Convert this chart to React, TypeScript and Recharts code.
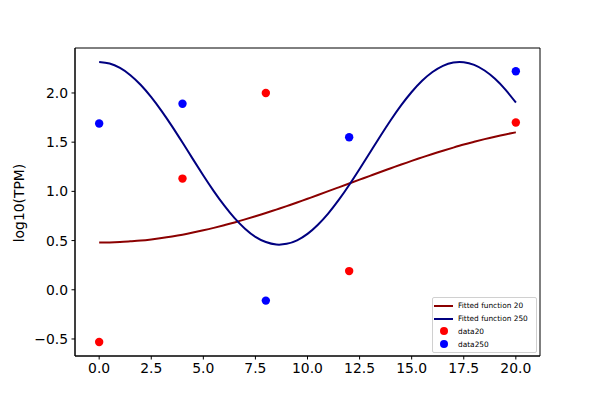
import React from 'react';
import {
  ComposedChart,
  Line,
  Scatter,
  XAxis,
  YAxis,
  Legend,
  ReferenceArea,
} from 'recharts';

// x positions of the sampled fitted curves
const fitX = [
  0, 0.5, 1, 1.5, 2, 2.5, 3, 3.5, 4, 4.5, 5, 5.5, 6, 6.5, 7, 7.5, 8, 8.5, 9, 9.5, 10,
  10.5, 11, 11.5, 12, 12.5, 13, 13.5, 14, 14.5, 15, 15.5, 16, 16.5, 17, 17.5, 18, 18.5,
  19, 19.5, 20,
];
const fit20Values = [
  0.48, 0.481, 0.485, 0.492, 0.5, 0.512, 0.526, 0.542, 0.56, 0.581, 0.604, 0.629,
  0.656, 0.684, 0.715, 0.747, 0.78, 0.815, 0.85, 0.887, 0.925, 0.963, 1.002, 1.041,
  1.08, 1.119, 1.158, 1.197, 1.235, 1.273, 1.31, 1.345, 1.38, 1.413, 1.445, 1.476,
  1.504, 1.531, 1.556, 1.579, 1.6,
];
const fit250Values = [
  2.315, 2.3, 2.254, 2.181, 2.081, 1.958, 1.816, 1.661, 1.496, 1.328, 1.162, 1.003,
  0.857, 0.728, 0.621, 0.538, 0.485, 0.46, 0.467, 0.503, 0.568, 0.661, 0.777, 0.913,
  1.065, 1.228, 1.395, 1.563, 1.725, 1.876, 2.01, 2.124, 2.213, 2.276, 2.31, 2.313,
  2.285, 2.228, 2.144, 2.034, 1.903,
];

// measured time points
const sampleX = [0, 4, 8, 12, 20];
const data20Values = [-0.53, 1.13, 2.0, 0.19, 1.7];
const data250Values = [1.69, 1.89, -0.11, 1.55, 2.22];

const xTicks = [0, 2.5, 5, 7.5, 10, 12.5, 15, 17.5, 20];
const yTicks = [-0.5, 0, 0.5, 1, 1.5, 2];
const xDomain: [number, number] = [-1.16, 21.16];
const yDomain: [number, number] = [-0.673, 2.457];

const fit20 = fitX.map((x, i) => ({ x, y: fit20Values[i] }));
const fit250 = fitX.map((x, i) => ({ x, y: fit250Values[i] }));
const data20 = sampleX.map((x, i) => ({ x, y: data20Values[i] }));
const data250 = sampleX.map((x, i) => ({ x, y: data250Values[i] }));

const FONT = '"DejaVu Sans", sans-serif';
const fmt = (v: number) => v.toFixed(1).replace('-', '\u2212');

const dot = (color: string) => (props: any) => (
  <circle cx={props.cx} cy={props.cy} r={4.2} fill={color} />
);

const legendItems = [
  { label: 'Fitted function 20', color: '#8b0000', kind: 'line' },
  { label: 'Fitted function 250', color: '#000080', kind: 'line' },
  { label: 'data20', color: '#ff0000', kind: 'dot' },
  { label: 'data250', color: '#0000ff', kind: 'dot' },
];

const LegendBox = () => (
  <div
    style={{
      width: 103,
      border: '1px solid #d0d0d0',
      borderRadius: 2,
      background: 'rgba(255,255,255,0.8)',
      padding: '1.5px 0',
      fontFamily: FONT,
      fontSize: 7.4,
      color: '#000',
      textAlign: 'left',
    }}
  >
    {legendItems.map((it) => (
      <div key={it.label} style={{ display: 'flex', alignItems: 'center', height: 12.8 }}>
        <svg width={24} height={12}>
          {it.kind === 'line' ? (
            <line x1={1} x2={20} y1={6} y2={6} stroke={it.color} strokeWidth={2} />
          ) : (
            <circle cx={11} cy={6} r={4} fill={it.color} />
          )}
        </svg>
        <span style={{ marginLeft: 1, whiteSpace: 'nowrap' }}>{it.label}</span>
      </div>
    ))}
  </div>
);

const tickStyle = { fill: '#000', fontSize: 13.9, fontFamily: FONT };

export default function App() {
  return (
    <div style={{ position: 'absolute', left: 0, top: 0, background: '#fff' }}>
      <ComposedChart
        width={600}
        height={400}
        margin={{ top: 48, right: 60, bottom: 14, left: 25 }}
      >
        <XAxis
          type="number"
          dataKey="x"
          domain={xDomain}
          ticks={xTicks}
          tickFormatter={fmt}
          allowDataOverflow
          height={30}
          tick={tickStyle}
          tickSize={3.5}
          tickMargin={3.5}
          axisLine={{ stroke: '#000', strokeWidth: 1 }}
          tickLine={{ stroke: '#000' }}
        />
        <YAxis
          type="number"
          dataKey="y"
          domain={yDomain}
          ticks={yTicks}
          tickFormatter={fmt}
          allowDataOverflow
          width={50}
          tick={tickStyle}
          tickSize={3.5}
          tickMargin={3.5}
          axisLine={{ stroke: '#000', strokeWidth: 1 }}
          tickLine={{ stroke: '#000' }}
          label={{
            content: () => (
              <text
                x={18.5}
                y={203}
                transform="rotate(-90 18.5 203)"
                textAnchor="middle"
                dominantBaseline="central"
                fontSize={13.9}
                fontFamily={FONT}
                fill="#000"
              >
                log10(TPM)
              </text>
            ),
          }}
        />
        <Line
          data={fit20}
          dataKey="y"
          type="natural"
          stroke="#8b0000"
          strokeWidth={2}
          dot={false}
          activeDot={false}
          isAnimationActive={false}
        />
        <Line
          data={fit250}
          dataKey="y"
          type="natural"
          stroke="#000080"
          strokeWidth={2}
          dot={false}
          activeDot={false}
          isAnimationActive={false}
        />
        <Scatter data={data20} dataKey="y" shape={dot('#ff0000')} isAnimationActive={false} />
        <Scatter data={data250} dataKey="y" shape={dot('#0000ff')} isAnimationActive={false} />
        <ReferenceArea
          x1={xDomain[0]}
          x2={xDomain[1]}
          y1={yDomain[0]}
          y2={yDomain[1]}
          fill="none"
          stroke="#000"
          strokeWidth={1}
          ifOverflow="visible"
        />
        <Legend
          layout="horizontal"
          verticalAlign="middle"
          align="center"
          content={() => <LegendBox />}
          wrapperStyle={{ left: 432, top: 297, width: 106 }}
        />
      </ComposedChart>
    </div>
  );
}
